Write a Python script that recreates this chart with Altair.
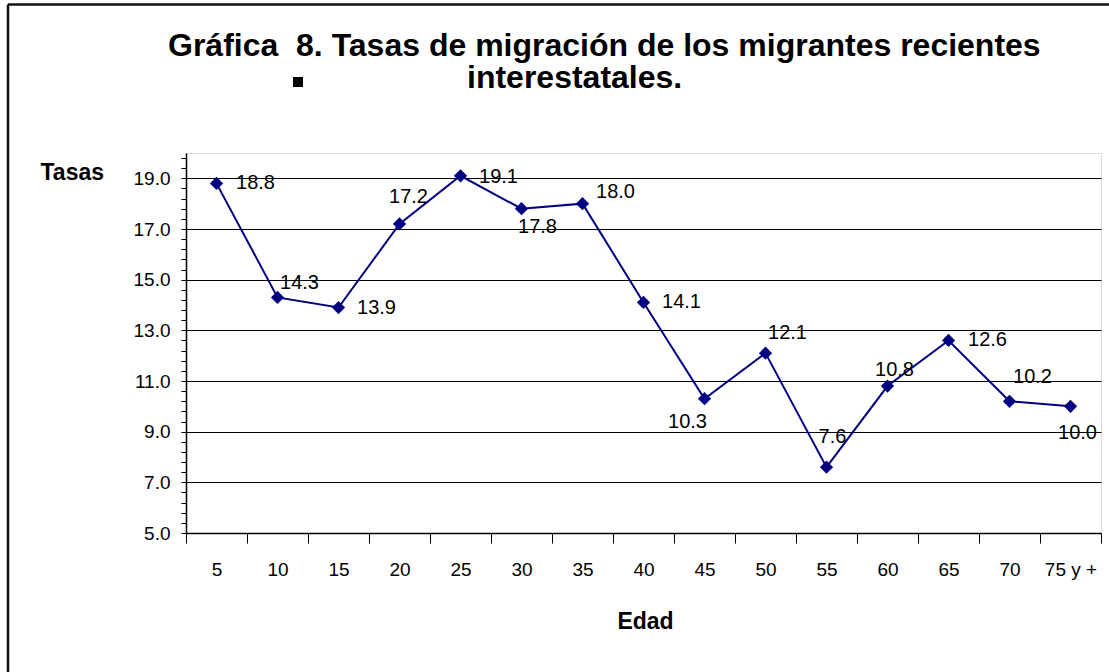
import altair as alt
import pandas as pd

# Age groups (x categories) and migration rates
edades = ["5", "10", "15", "20", "25", "30", "35", "40", "45", "50",
          "55", "60", "65", "70", "75 y +"]
tasas = [18.8, 14.3, 13.9, 17.2, 19.1, 17.8, 18.0, 14.1, 10.3, 12.1,
         7.6, 10.8, 12.6, 10.2, 10.0]

# Y axis: labelled ticks, and the minor tick step between them
y_major = [5, 7, 9, 11, 13, 15, 17, 19]
y_minor_step = 0.4
y_domain = [5, 20]

# Per-point label offsets (dx, dy) in pixels from the marker centre
label_offsets = [(39, 0), (22, -14), (38, 0), (9, -27), (38, 1), (16, 18),
                 (33, -12), (38, 0), (-17, 23), (22, -20), (6, -30),
                 (7, -16), (39, 0), (23, -24), (7, 27)]

NAVY = "#000080"
FONT = "Liberation Sans"

df = pd.DataFrame({"edad": edades, "tasa": tasas})
one = pd.DataFrame({"k": [0]})

y_ticks = [round(y_domain[0] + y_minor_step * k, 1)
           for k in range(int((y_domain[1] - y_domain[0]) / y_minor_step) + 1)]
major_test = " || ".join(f"abs(datum.value - {v}) < 0.01" for v in y_major)

x_enc = alt.X(
    "edad:N",
    sort=edades,
    scale=alt.Scale(type="band", paddingInner=0, paddingOuter=0),
    axis=alt.Axis(
        title="Edad", titleFontSize=23, titleFontWeight="bold", titleColor="#000",
        titleX=459, titleY=88, titleAlign="center", titleBaseline="middle",
        labelAngle=0, labelFontSize=19, labelColor="#000", labelPadding=17,
        tickBand="extent", tickSize=10, tickColor="#000", tickWidth=1,
        domainColor="#000", domainWidth=1.5, grid=False,
    ),
)
y_enc = alt.Y(
    "tasa:Q",
    scale=alt.Scale(domain=y_domain, nice=False, zero=False),
    axis=alt.Axis(
        title="Tasas", titleFontSize=23, titleFontWeight="bold", titleColor="#000",
        titleAngle=0, titleX=-146, titleY=19, titleAlign="left", titleBaseline="middle",
        values=y_ticks,
        labelExpr=f"({major_test}) ? format(datum.value, '.1f') : ''",
        labelOverlap=False, labelFlush=False,
        labelFontSize=19, labelColor="#000", labelPadding=11,
        tickSize=5, tickColor="#000", tickWidth=1,
        domainColor="#000", domainWidth=1.5,
        grid=True, gridColor="#000", gridWidth=1,
        gridOpacity={"condition": {"test": major_test, "value": 1}, "value": 0},
    ),
)

base = alt.Chart(df)
line = base.mark_line(color=NAVY, strokeWidth=2).encode(x=x_enc, y=y_enc)
points = base.mark_point(shape="diamond", filled=True, size=175, color=NAVY,
                         opacity=1).encode(x=x_enc, y=y_enc)

labels = []
for e, (dx, dy) in zip(edades, label_offsets):
    labels.append(
        base.transform_filter(alt.datum.edad == e)
        .mark_text(dx=dx, dy=dy, fontSize=20, font=FONT, color="#000",
                   align="center", baseline="middle")
        .encode(x=x_enc, y=y_enc, text=alt.Text("tasa:Q", format=".1f"))
    )

# Chart heading, drawn as two lines plus the bullet
title1 = alt.Chart(one).mark_text(
    text="Gráfica\u00a0 8.\u00a0Tasas de migración de los migrantes recientes",
    fontSize=32, fontWeight="bold", font=FONT, color="#000",
    align="left", baseline="alphabetic",
).encode(x=alt.value(-18), y=alt.value(-97))
title2 = alt.Chart(one).mark_text(
    text="interestatales.", fontSize=32, fontWeight="bold", font=FONT,
    color="#000", align="left", baseline="alphabetic",
).encode(x=alt.value(281), y=alt.value(-65))
bullet = alt.Chart(one).mark_square(size=100, color="#000", filled=True,
                                    opacity=1).encode(
    x=alt.value(112), y=alt.value(-71))

# Outer frame of the chart
frame_top = alt.Chart(one).mark_rule(color="#111", strokeWidth=2.5).encode(
    x=alt.value(-178), x2=alt.value(1000), y=alt.value(-148.5))
frame_left = alt.Chart(one).mark_rule(color="#111", strokeWidth=2.5).encode(
    x=alt.value(-178), y=alt.value(-148.5), y2=alt.value(600))

chart = alt.layer(
    line, points, *labels, title1, title2, bullet, frame_top, frame_left
).properties(
    width=915, height=380,
    autosize=alt.AutoSizeParams(type="none"),
    padding={"left": 186, "top": 153, "right": 8, "bottom": 139},
    background="white",
).configure_view(
    stroke="#808080", strokeWidth=1.5, fill="white"
).configure(font=FONT)

chart.save("out.html", embed_options={"renderer": "svg", "actions": False})
